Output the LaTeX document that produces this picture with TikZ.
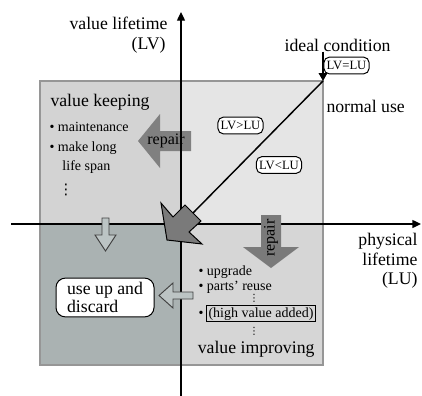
\documentclass[tikz,border=0pt]{standalone}
\usepackage{fontspec}
\setmainfont{Liberation Serif}
\newfontfamily\dotsfont{DejaVu Sans}
\usetikzlibrary{arrows.meta}

\definecolor{keepgray}{RGB}{211,211,211}
\definecolor{usegray}{RGB}{229,229,229}
\definecolor{discardgray}{RGB}{170,178,178}
\definecolor{improvegray}{RGB}{214,214,214}
\definecolor{repairgray}{RGB}{128,128,128}
\definecolor{hollowgray}{RGB}{188,196,196}
\definecolor{edgegray}{RGB}{150,150,150}

\tikzset{every picture/.style={line width=0.75pt}}
\tikzset{
  big/.style={font=\fontsize{13.3}{15}\selectfont, inner sep=0pt},
  small/.style={font=\fontsize{10.5}{12}\selectfont, inner sep=0pt},
  tag/.style={draw, fill=white, rounded corners=4pt, inner xsep=2pt, inner ysep=0pt, minimum height=12.5pt, font=\fontsize{9.5}{10}\selectfont},
  hollow/.style={fill=hollowgray, draw=black!75, line width=0.7pt},
  axis/.style={line width=1pt, -{Triangle[length=6.5pt,width=6pt]}},
}

\begin{document}
\begin{tikzpicture}[x=0.75pt,y=0.75pt,yscale=-1,xscale=1]
\useasboundingbox (0,0) rectangle (422,396);

% Quadrants
\fill [keepgray] (40,81) rectangle (181,224);
\fill [usegray] (181,81) rectangle (323,224);
\fill [discardgray] (40,224) rectangle (181,365);
\fill [improvegray] (181,224) rectangle (323,365);
\draw [edgegray, line width=1pt] (40,81) rectangle (323,365);

% Shape: repair to the left
\draw [draw=none, fill=repairgray] (191,131) -- (160,131) -- (160,114) -- (138,141) -- (160,168) -- (160,151) -- (191,151) -- cycle ;

% Axes
\coordinate (ybot) at (181,396);
\coordinate (ytop) at (181,12);
\coordinate (xleft) at (11,224);
\coordinate (xright) at (421,224);
\draw [axis] (ybot) -- (ytop) ;
\draw [axis] (xleft) -- (xright) ;

% Text Node
\node [big, anchor=base east] (ideal) at (391,51) {ideal condition};
% Connection
\coordinate (corner) at (323,81);
\coordinate (bigtail) at (193,213);
\draw [line width=1pt, -{Triangle[length=6pt,width=6.5pt]}] (corner |- ideal.south) -- (corner) ;
\draw [line width=1.1pt] (corner) -- (bigtail) ;

% Shape: big arrow to the origin
\draw [fill=repairgray!95!black, line width=0.75pt] (185,205) -- (201,221) -- (189,232) -- (202,244) -- (167,240) -- (161,203) -- (173,217) -- cycle ;

% Shape: repair downwards
\draw [draw=none, fill=repairgray!105] (261,215) -- (281,215) -- (281,247) -- (299,247) -- (271,268) -- (243,247) -- (261,247) -- cycle ;

% Shape: hollow arrows
\draw [hollow] (102,218) -- (109,218) -- (109,235) -- (116,235) -- (105.5,251) -- (95,235) -- (102,235) -- cycle ;
\draw [hollow] (193,292) -- (193,299) -- (173,299) -- (173,308) -- (159,295.5) -- (173,283) -- (173,292) -- cycle ;

% Text Node
\node [big, anchor=base east] (lvtitle) at (168,29) {value lifetime};
\node [big, anchor=base east] (lvunit) at (166,49) {(LV)};
\node [big, anchor=east, align=right, font=\fontsize{13.3}{14.5}\selectfont] (lutitle) at (418,261) {physical\\lifetime\\(LU)};
\node [big, anchor=base west] (normal) at (326,113) {normal use};
\node [tag] (equal) at (346.5,65.5) {LV=LU};
\node [tag] (greater) at (240.5,125.5) {LV>LU};
\node [tag] (less) at (279,165) {LV<LU};

% Text Node
\node [big, anchor=base west] (keeping) at (50,106) {value keeping};
\node [small, anchor=base west] (maint) at (49,131) {\textbullet\ maintenance};
\node [small, anchor=base west] (long) at (49,151) {\textbullet\ make long};
\node [small, anchor=base west] (span) at (62,170) {life span};
\node [font=\dotsfont\fontsize{11}{12}\selectfont, inner sep=0pt] (keepdots) at (66,190) {⋮};
\node [font=\fontsize{12}{14}\selectfont, inner sep=0pt] (repleft) at (166,141) {repair};
\node [font=\fontsize{12}{14}\selectfont, inner sep=0pt, rotate=90] (repdown) at (271,238) {repair};

% Text Node
\node [draw, fill=white, rounded corners=7pt, minimum width=73.5pt, minimum height=29pt, inner xsep=6pt, align=left, font=\fontsize{13.3}{12}\selectfont] (discard) at (105,297.5) {use up and\\discard};

% Text Node
\node [small, anchor=base west] (upgrade) at (198,275) {\textbullet\ upgrade};
\node [small, anchor=base west] (reuse) at (198,290) {\textbullet\ parts’ reuse};
\node [font=\dotsfont\fontsize{7.5}{8}\selectfont, inner sep=0pt] (impdots) at (254,298.5) {⋮};
\node [small, anchor=base west] (highdot) at (198,317) {\textbullet};
\node [small, draw, inner sep=1.2pt, anchor=base] (highvalue) at (261,317) {(high value added)};
\node [font=\dotsfont\fontsize{7.5}{8}\selectfont, inner sep=0pt] (impdots2) at (254,331.5) {⋮};
\node [big, anchor=base east] (improving) at (315,353) {value improving};

\end{tikzpicture}
\end{document}
